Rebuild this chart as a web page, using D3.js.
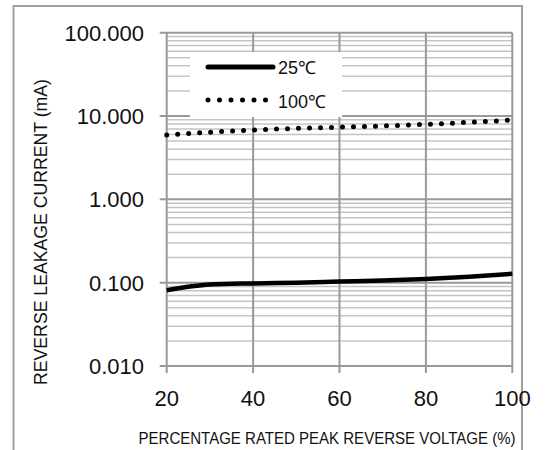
<!DOCTYPE html>
<html>
<script src="https://d3js.org/d3.v7.min.js"></script>
<style>
  body {margin:0; background:#fff;}
  text {font-family:"Liberation Sans", Arial, sans-serif; fill:#111;}
</style>
<body>
<svg width=552 height=450></svg>
<script>
    // percentage of rated peak reverse voltage
    const voltage = [20, 30, 40, 50, 60, 70, 80, 90, 100];
    // leakage current in mA
    const cur25  = [0.081, 0.095, 0.098, 0.100, 0.103, 0.106, 0.111, 0.118, 0.128];
    const cur100 = [5.9, 6.4, 6.8, 7.1, 7.35, 7.6, 7.95, 8.4, 8.95];

    const xTicks = [20, 40, 60, 80, 100];
    const yTicks = [0.01, 0.1, 1, 10, 100];
    const seriesNames = ["25\u2103", "100\u2103"];

    const svg = d3.select("svg");

    // outer frame
    svg.append("rect")
        .attr("x", 13.5).attr("y", 6)
        .attr("width", 508.5).attr("height", 460)
        .attr("fill", "none").attr("stroke", "#a0a0a0").attr("stroke-width", 2);

    const x = d3.scaleLinear().domain([20, 100]).range([166.7, 512.3]);
    const y = d3.scaleLog().domain([0.01, 100]).range([366, 32.7]);

    // minor horizontal grid
    const minor = [];
    for (let d = 0.01; d < 100; d *= 10)
        for (let k = 2; k <= 9; k++) minor.push(d * k);

    svg.append("g").selectAll("line")
        .data(minor).enter().append("line")
        .attr("x1", x(20)).attr("x2", x(100))
        .attr("y1", d => y(d)).attr("y2", d => y(d))
        .attr("stroke", "#c4c4c4").attr("stroke-width", 1.5);

    // major horizontal grid
    svg.append("g").selectAll("line")
        .data(yTicks).enter().append("line")
        .attr("x1", x(20) - 7).attr("x2", x(100))
        .attr("y1", d => y(d)).attr("y2", d => y(d))
        .attr("stroke", "#999").attr("stroke-width", 2);

    // vertical grid
    svg.append("g").selectAll("line")
        .data(xTicks).enter().append("line")
        .attr("x1", d => x(d)).attr("x2", d => x(d))
        .attr("y1", y(100)).attr("y2", y(0.01) + 7)
        .attr("stroke", "#999").attr("stroke-width", 2);

    // tick labels
    svg.append("g").selectAll("text")
        .data(yTicks).enter().append("text")
        .attr("x", 144).attr("y", d => y(d) + 8)
        .attr("text-anchor", "end")
        .style("font-size", "22px")
        .text(d => d3.format(".3f")(d));

    svg.append("g").selectAll("text")
        .data(xTicks).enter().append("text")
        .attr("x", d => x(d)).attr("y", 406)
        .attr("text-anchor", "middle")
        .style("font-size", "22px")
        .text(d => d);

    // axis titles
    svg.append("text")
        .attr("x", 138.5).attr("y", 444)
        .attr("textLength", 377)
        .attr("lengthAdjust", "spacingAndGlyphs")
        .style("font-size", "16.5px")
        .text("PERCENTAGE RATED PEAK REVERSE VOLTAGE (%)");

    svg.append("text")
        .attr("transform", "translate(46.5,385) rotate(-90)")
        .attr("textLength", 306)
        .attr("lengthAdjust", "spacingAndGlyphs")
        .style("font-size", "18.5px")
        .text("REVERSE LEAKAGE CURRENT (mA)");

    // series
    const line = d3.line()
        .x((d, i) => x(voltage[i]))
        .y(d => y(d))
        .curve(d3.curveMonotoneX);

    svg.append("path")
        .datum(cur25)
        .attr("d", line)
        .attr("fill", "none").attr("stroke", "#000")
        .attr("stroke-width", 4.5);

    svg.append("path")
        .datum(cur100)
        .attr("d", line)
        .attr("fill", "none").attr("stroke", "#000")
        .attr("stroke-width", 5)
        .attr("stroke-linecap", "round")
        .attr("stroke-dasharray", "0 11");

    // legend
    const lg = svg.append("g");
    lg.append("rect")
        .attr("x", 190).attr("y", 52)
        .attr("width", 152).attr("height", 65)
        .attr("fill", "#fff");
    lg.append("line")
        .attr("x1", 208).attr("x2", 273).attr("y1", 67).attr("y2", 67)
        .attr("stroke", "#000").attr("stroke-width", 5)
        .attr("stroke-linecap", "round");
    lg.append("line")
        .attr("x1", 208).attr("x2", 266).attr("y1", 100).attr("y2", 100)
        .attr("stroke", "#000").attr("stroke-width", 5)
        .attr("stroke-linecap", "round")
        .attr("stroke-dasharray", "0 11.5");
    lg.selectAll("text")
        .data(seriesNames).enter().append("text")
        .attr("x", 278).attr("y", (d, i) => 73.5 + i * 34)
        .style("font-size", "18px")
        .text(d => d);
</script>
</body>
</html>
